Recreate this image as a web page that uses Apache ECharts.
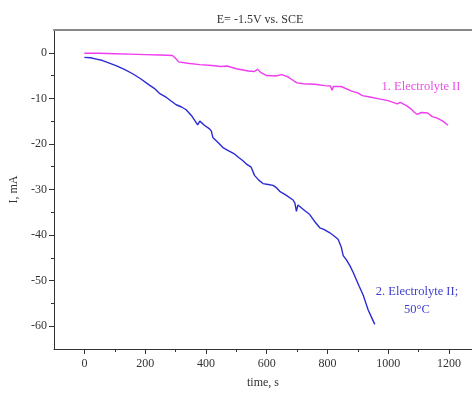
<!DOCTYPE html>
<html>
<head>
<meta charset="utf-8">
<script src="https://cdn.jsdelivr.net/npm/echarts@6/dist/echarts.min.js"></script>
<style>html,body{margin:0;padding:0;background:#fff;}#c{width:472px;height:394px;}</style>
</head>
<body>
<div id="c"></div>
<script>
var titleText = 'E= -1.5V vs. SCE';
var xName = 'time, s';
var yName = 'I, mA';
var label1 = '1. Electrolyte II';
var label2 = '2. Electrolyte II;\n50°C';

var xMajor = [0, 200, 400, 600, 800, 1000, 1200];
var xMinor = [100, 300, 500, 700, 900, 1100];
var yMajor = [0, -10, -20, -30, -40, -50, -60];
var yMinor = [-5, -15, -25, -35, -45, -55];

var time1 = [0,50,100,150,200,250,290,300,310,340,380,420,450,470,500,540,560,570,580,600,630,650,670,690,700,720,760,790,810,815,820,845,850,880,900,905,915,940,970,1000,1030,1040,1060,1075,1085,1090,1095,1110,1130,1145,1160,1180,1197];
var current1 = [-0.1,-0.1,-0.2,-0.3,-0.4,-0.5,-0.6,-1.2,-2.0,-2.3,-2.6,-2.8,-3.0,-2.9,-3.5,-4.0,-4.1,-3.6,-4.3,-5.0,-5.1,-4.8,-5.3,-6.2,-6.6,-6.8,-6.9,-7.2,-7.3,-8.2,-7.4,-7.4,-7.6,-8.4,-8.8,-8.4,-9.4,-9.7,-10.1,-10.5,-11.2,-10.9,-11.6,-12.3,-13.0,-12.6,-13.5,-13.1,-13.2,-14.0,-14.3,-15.0,-15.9];

var time2 = [0,20,40,60,80,104,130,159,185,214,230,247,270,302,320,335,355,373,380,395,412,418,423,440,456,475,494,510,522,535,549,555,560,575,588,605,621,632,643,665,687,693,698,703,709,725,742,760,775,790,808,822,835,845,852,862,874,885,896,905,918,925,934,945,956];
var current2 = [-1.0,-1.1,-1.4,-1.7,-2.2,-2.8,-3.6,-4.6,-5.7,-7.1,-7.8,-8.9,-9.8,-11.4,-11.9,-12.5,-14.0,-15.8,-15.0,-15.9,-16.7,-17.2,-18.6,-19.7,-20.8,-21.5,-22.2,-23.1,-23.7,-24.5,-25.1,-25.3,-26.9,-28.0,-28.7,-28.9,-29.1,-29.6,-30.4,-31.3,-32.3,-33.0,-34.8,-33.4,-33.7,-34.6,-35.5,-37.2,-38.4,-38.8,-39.5,-40.2,-40.9,-42.5,-44.5,-45.4,-46.7,-48.2,-49.9,-51.3,-53.2,-54.6,-56.4,-58.0,-59.6];

function pairs(xs, ys){ return xs.map(function(x,i){ return [x, ys[i]]; }); }
function plain(v){ return String(v); }

var font = 'Liberation Serif';
var chart = echarts.init(document.getElementById('c'), null, {renderer:'canvas'});
var baseX = {type:'value', min:-100, max:1276, splitLine:{show:false}};
var baseY = {type:'value', min:-65, max:5, splitLine:{show:false}};
chart.setOption({
  animation:false,
  backgroundColor:'#fff',
  grid:{left:54, top:30, right:0, bottom:41, containLabel:false},
  xAxis:[
    Object.assign({}, baseX, {
      position:'bottom',
      name:xName, nameLocation:'middle', nameGap:28,
      nameTextStyle:{fontFamily:font, fontSize:12, color:'#333'},
      axisLine:{show:true, onZero:false, lineStyle:{color:'#333', width:1}},
      axisTick:{show:true, customValues:xMajor, length:5, lineStyle:{color:'#333'}},
      axisLabel:{show:true, customValues:xMajor, formatter:plain, margin:9, fontFamily:font, fontSize:12, color:'#333'}
    }),
    Object.assign({}, baseX, {
      position:'bottom',
      axisLine:{show:false, onZero:false},
      axisTick:{show:true, customValues:xMinor, length:3, lineStyle:{color:'#333'}},
      axisLabel:{show:false}
    }),
    Object.assign({}, baseX, {
      position:'top',
      axisLine:{show:true, onZero:false, lineStyle:{color:'#888', width:2}},
      axisTick:{show:false}, axisLabel:{show:false}
    })
  ],
  yAxis:[
    Object.assign({}, baseY, {
      position:'left',
      name:yName, nameLocation:'middle', nameGap:34,
      nameTextStyle:{fontFamily:font, fontSize:12, color:'#333'},
      axisLine:{show:true, onZero:false, lineStyle:{color:'#333', width:1}},
      axisTick:{show:true, customValues:yMajor, length:5, lineStyle:{color:'#333'}},
      axisLabel:{show:true, customValues:yMajor, formatter:plain, margin:7, fontFamily:font, fontSize:12, color:'#333'}
    }),
    Object.assign({}, baseY, {
      position:'left',
      axisLine:{show:false, onZero:false},
      axisTick:{show:true, customValues:yMinor, length:3, lineStyle:{color:'#333'}},
      axisLabel:{show:false}
    })
  ],
  series:[
    {type:'line', xAxisIndex:0, yAxisIndex:0, data:pairs(time1, current1), showSymbol:false, symbol:'none',
     lineStyle:{color:'#f03cf0', width:1.4}},
    {type:'line', xAxisIndex:0, yAxisIndex:0, data:pairs(time2, current2), showSymbol:false, symbol:'none',
     lineStyle:{color:'#2b2bd6', width:1.4}}
  ],
  graphic:[
    {type:'text', x:260, y:20, style:{text:titleText, font:'12px "Liberation Serif"', fill:'#333', textAlign:'center', textVerticalAlign:'middle'}},
    {type:'text', x:421, y:87, style:{text:label1, font:'12.5px "Liberation Serif"', fill:'#e850e8', textAlign:'center', textVerticalAlign:'middle'}},
    {type:'text', x:417, y:301, style:{text:label2, font:'12.5px "Liberation Serif"', fill:'#4040d0', textAlign:'center', textVerticalAlign:'middle', lineHeight:18}}
  ]
});
</script>
</body>
</html>
